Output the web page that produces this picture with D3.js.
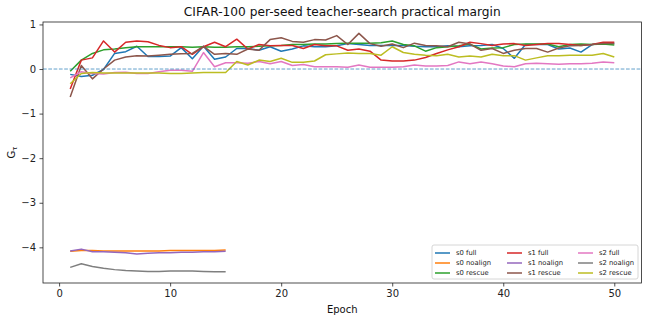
<!DOCTYPE html>
<html>
<head>
<meta charset="utf-8">
<script src="https://cdn.jsdelivr.net/npm/d3@7"></script>
<style>
  body { margin: 0; background: #fff; }
  text { font-family: "DejaVu Sans", sans-serif; }
</style>
</head>
<body>
<svg id="chart" width="649" height="320"></svg>
<script>
// per-epoch G_tau values
const epochsFull = d3.range(1, 51);
const epochsNoalign = d3.range(1, 16);

const s0Full = [-0.12, -0.17, -0.14, -0.01, 0.35, 0.39, 0.51, 0.28, 0.28, 0.29,
  0.48, 0.23, 0.51, 0.22, 0.27, 0.46, 0.46, 0.42, 0.5, 0.4,
  0.45, 0.52, 0.5, 0.5, 0.52, 0.57, 0.55, 0.53, 0.53, 0.53,
  0.53, 0.51, 0.5, 0.5, 0.52, 0.5, 0.52, 0.53, 0.55, 0.46,
  0.24, 0.55, 0.55, 0.55, 0.45, 0.47, 0.38, 0.55, 0.57, 0.57];
const s0Noalign = [-4.09, -4.07, -4.07, -4.08, -4.08, -4.08, -4.08, -4.08, -4.08, -4.07,
  -4.07, -4.07, -4.07, -4.07, -4.06];
const s0Rescue = [-0.05, 0.2, 0.35, 0.43, 0.45, 0.48, 0.5, 0.5, 0.5, 0.5,
  0.5, 0.49, 0.5, 0.49, 0.49, 0.5, 0.5, 0.51, 0.52, 0.53,
  0.55, 0.55, 0.56, 0.56, 0.57, 0.58, 0.58, 0.58, 0.59, 0.63,
  0.55, 0.52, 0.4, 0.48, 0.5, 0.52, 0.56, 0.45, 0.47, 0.48,
  0.55, 0.56, 0.56, 0.56, 0.5, 0.55, 0.56, 0.55, 0.56, 0.54];
const s1Full = [-0.45, 0.2, 0.25, 0.63, 0.38, 0.6, 0.63, 0.61, 0.53, 0.48,
  0.5, 0.33, 0.5, 0.6, 0.5, 0.67, 0.45, 0.55, 0.52, 0.53,
  0.53, 0.46, 0.55, 0.52, 0.52, 0.42, 0.45, 0.4, 0.2, 0.18,
  0.18, 0.2, 0.26, 0.35, 0.43, 0.5, 0.6, 0.57, 0.53, 0.56,
  0.57, 0.53, 0.55, 0.57, 0.57, 0.55, 0.53, 0.55, 0.6, 0.6];
const s1Noalign = [-4.08, -4.04, -4.1, -4.1, -4.11, -4.12, -4.15, -4.13, -4.12, -4.12,
  -4.11, -4.11, -4.1, -4.1, -4.09];
const s1Rescue = [-0.63, 0.08, -0.22, 0.0, 0.2, 0.27, 0.3, 0.29, 0.31, 0.33,
  0.34, 0.35, 0.51, 0.33, 0.35, 0.33, 0.45, 0.42, 0.66, 0.7,
  0.62, 0.6, 0.66, 0.65, 0.75, 0.55, 0.8, 0.57, 0.51, 0.56,
  0.48, 0.58, 0.53, 0.52, 0.5, 0.6, 0.56, 0.42, 0.46, 0.35,
  0.42, 0.46, 0.46, 0.38, 0.47, 0.52, 0.53, 0.55, 0.57, 0.57];
const s2Full = [-0.2, -0.06, -0.1, -0.11, -0.08, -0.07, -0.1, -0.1, -0.06, -0.03,
  -0.03, -0.05, 0.37, 0.05, 0.14, 0.14, 0.13, 0.17, 0.12, 0.17,
  0.08, 0.1, 0.05, 0.05, 0.05, 0.04, 0.09, 0.04, 0.04, 0.04,
  0.05, 0.09, 0.07, 0.07, 0.08, 0.16, 0.12, 0.16, 0.12, 0.07,
  0.05, 0.12, 0.13, 0.12, 0.11, 0.12, 0.12, 0.13, 0.16, 0.14];
const s2Noalign = [-4.45, -4.37, -4.43, -4.47, -4.5, -4.52, -4.53, -4.54, -4.54, -4.53,
  -4.53, -4.53, -4.54, -4.55, -4.55];
const s2Rescue = [-0.33, -0.1, -0.08, -0.09, -0.09, -0.09, -0.09, -0.09, -0.09, -0.1,
  -0.1, -0.09, -0.08, -0.08, -0.08, 0.17, 0.09, 0.2, 0.17, 0.24,
  0.15, 0.15, 0.18, 0.32, 0.34, 0.36, 0.35, 0.35, 0.31, 0.5,
  0.37, 0.33, 0.31, 0.3, 0.33, 0.27, 0.29, 0.27, 0.33, 0.3,
  0.3, 0.2, 0.25, 0.3, 0.3, 0.31, 0.31, 0.31, 0.35, 0.27];

const seriesNames = ["s0 full", "s0 noalign", "s0 rescue",
  "s1 full", "s1 noalign", "s1 rescue",
  "s2 full", "s2 noalign", "s2 rescue"];
const seriesValues = [s0Full, s0Noalign, s0Rescue, s1Full, s1Noalign, s1Rescue, s2Full, s2Noalign, s2Rescue];
const seriesColors = ["#1f77b4", "#ff7f0e", "#2ca02c", "#d62728", "#9467bd", "#8c564b", "#e377c2", "#7f7f7f", "#bcbd22"];

const xTicks = [0, 10, 20, 30, 40, 50];
const yTicks = [-4, -3, -2, -1, 0, 1];

const svg = d3.select("#chart");
const mLeft = 43, mRight = 641.5, mTop = 22, mBottom = 283;

const x = d3.scaleLinear().domain([-1.45, 52.45]).range([mLeft, mRight]);
const y = d3.scaleLinear().domain([-4.8, 1.055]).range([mBottom, mTop]);

// x axis
svg.append("g")
  .attr("transform", `translate(0,${mBottom})`)
  .call(d3.axisBottom(x).tickValues(xTicks).tickFormat(d3.format("d")).tickSize(3.5).tickPadding(3.5).tickSizeOuter(0))
  .call(g => g.select(".domain").remove())
  .call(g => g.selectAll("text").attr("font-size", 10).attr("fill", "#222"))
  .call(g => g.selectAll("line").attr("stroke", "#222").attr("stroke-width", 0.8));

// y axis
svg.append("g")
  .attr("transform", `translate(${mLeft},0)`)
  .call(d3.axisLeft(y).tickValues(yTicks).tickFormat(d3.format("d")).tickSize(3.5).tickPadding(3.5).tickSizeOuter(0))
  .call(g => g.select(".domain").remove())
  .call(g => g.selectAll("text").attr("font-size", 10).attr("fill", "#222"))
  .call(g => g.selectAll("line").attr("stroke", "#222").attr("stroke-width", 0.8));

const line = d3.line().x(d => x(d[0])).y(d => y(d[1]));

const plot = svg.append("g");
seriesValues.forEach((vals, i) => {
  const xs = vals.length === 50 ? epochsFull : epochsNoalign;
  plot.append("path")
    .datum(vals.map((v, j) => [xs[j], v]))
    .attr("d", line)
    .attr("fill", "none")
    .attr("stroke", seriesColors[i])
    .attr("stroke-width", 1.5)
    .attr("stroke-linejoin", "round");
});

// zero reference
svg.append("line")
  .attr("x1", mLeft).attr("x2", mRight)
  .attr("y1", y(0)).attr("y2", y(0))
  .attr("stroke", "#1f77b4").attr("stroke-opacity", 0.7)
  .attr("stroke-width", 1).attr("stroke-dasharray", "3.7,1.6");

// spines
svg.append("rect")
  .attr("x", mLeft).attr("y", mTop)
  .attr("width", mRight - mLeft).attr("height", mBottom - mTop)
  .attr("fill", "none").attr("stroke", "#222").attr("stroke-width", 0.8);

svg.append("text")
  .attr("x", (mLeft + mRight) / 2).attr("y", 16)
  .attr("text-anchor", "middle").attr("font-size", 12.2).attr("fill", "#111")
  .text("CIFAR-100 per-seed teacher-search practical margin");

svg.append("text")
  .attr("x", (mLeft + mRight) / 2).attr("y", 312.5)
  .attr("text-anchor", "middle").attr("font-size", 10).attr("fill", "#111")
  .text("Epoch");

const yl = svg.append("text")
  .attr("transform", `translate(15,${(mTop + mBottom) / 2}) rotate(-90)`)
  .attr("text-anchor", "middle").attr("font-size", 10).attr("fill", "#111");
yl.append("tspan").text("G");
yl.append("tspan").attr("font-size", 7).attr("dy", 2).text("τ");

// legend
const lg = svg.append("g");
lg.append("rect")
  .attr("x", 432).attr("y", 245).attr("width", 206).attr("height", 34)
  .attr("rx", 2).attr("fill", "#fff").attr("fill-opacity", 0.8)
  .attr("stroke", "#ccc").attr("stroke-width", 0.8);
const colX = [435, 507, 578];
const rowY = [253, 263, 273];
seriesNames.forEach((name, i) => {
  const cx = colX[Math.floor(i / 3)], cy = rowY[i % 3];
  lg.append("line")
    .attr("x1", cx).attr("x2", cx + 15).attr("y1", cy).attr("y2", cy)
    .attr("stroke", seriesColors[i]).attr("stroke-width", 1.5);
  lg.append("text")
    .attr("x", cx + 21).attr("y", cy + 2.3)
    .attr("font-size", 6.8).attr("fill", "#222")
    .text(name);
});
</script>
</body>
</html>
